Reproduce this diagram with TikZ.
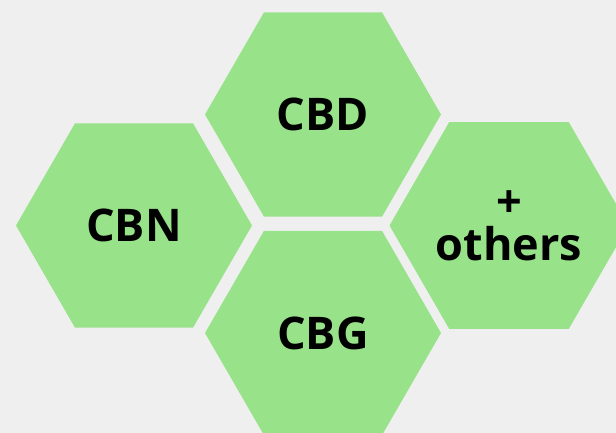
\documentclass[tikz,border=0pt]{standalone}
\usepackage{fontspec}
\setmainfont{Open Sans}
\usetikzlibrary{shapes.geometric}

\definecolor{hexgreen}{RGB}{152,226,138}
\definecolor{bggray}{RGB}{239,239,239}

\begin{document}
\begin{tikzpicture}[x=1pt, y=-1pt,
	hexcell/.style={regular polygon, regular polygon sides=6, minimum size=236pt,
		inner sep=0pt, outer sep=0pt, fill=hexgreen, text=black, align=center,
		font=\fontsize{45}{43}\selectfont\bfseries}]
	
	\useasboundingbox (0,0) rectangle (616,433);
	\clip (0,0) rectangle (616,433);
	\fill[bggray] (0,0) rectangle (616,433);
	
	%---------------------------------------------
	
	\node[hexcell] (cbd) at (323,114.5) {CBD};
	\node[hexcell] (cbn) at (134,225.5) {CBN};
	\node[hexcell] (cbg) at (323,333) {CBG};
	\node[hexcell] (others) at (509,225.5) {+\\others};
	
	%---------------------------------------------
	
\end{tikzpicture}
\end{document}
